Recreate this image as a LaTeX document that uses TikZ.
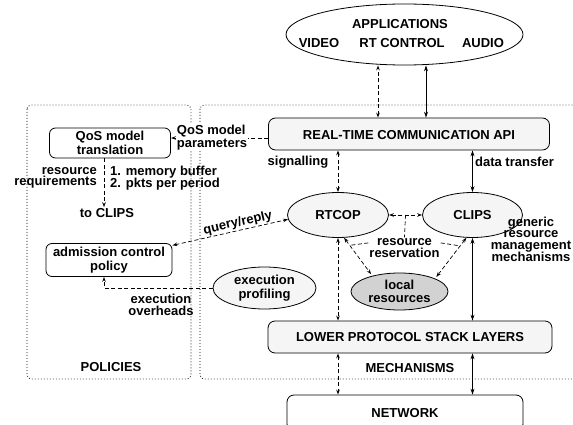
\documentclass[tikz,border=0pt]{standalone}
\usepackage{fontspec}
\setmainfont{Liberation Sans}
\usepackage{tikz}
\usetikzlibrary{shapes.geometric, arrows.meta, calc}
\newcommand{\testo}{\fontsize{13}{13.5}\selectfont\bfseries}
\newcommand{\fitto}{\fontsize{13}{11.6}\selectfont\bfseries\lineskiplimit=-6pt}

\begin{document}
\begin{tikzpicture}[x = 1pt, y = -1pt,
    >={Stealth[length=6pt, width=4pt]},
    freccia/.tip={Stealth[open, length=5pt, width=3.6pt]},
    tratt/.style={line width=0.7pt, dash pattern=on 4pt off 2.5pt},
    solida/.style={line width=0.8pt, <->},
    punt/.style={line width=0.8pt, dash pattern=on 0.8pt off 2.2pt, rounded corners=4pt},
    strato/.style={draw, line width=0.8pt, rounded corners=7pt, fill=gray!8, font=\testo},
    riquadro/.style={draw, line width=0.8pt, rounded corners=6pt, fill=white, font=\testo, align=center, inner sep=2pt},
    bolla/.style={draw, ellipse, line width=0.8pt, fill=gray!8, font=\testo, align=center, inner sep=0pt},
    etich/.style={font=\fitto, align=center, inner sep=1pt}]
    % parametri
    \pgfmathsetmacro{\xsig}{378}
    \pgfmathsetmacro{\xdat}{426}
    \pgfmathsetmacro{\xreq}{104}
    \pgfmathsetmacro{\yqos}{138}
    \useasboundingbox (0,0) rectangle (573,425);
    \clip (0,0) rectangle (573,425);
    % riquadri punteggiati
    \draw[punt] (27,105) rectangle (191,379);
    \draw[punt] (200,105) rectangle (600,379);
    \node[font=\testo] (pol) at (111,367) {POLICIES};
    \node[font=\testo] (mech) at (410,368) {MECHANISMS};
    % applicazioni
    \node[bolla, fill=white, minimum width=237pt, minimum height=61pt] (app) at (404.5,34.5) {};
    \node[font=\testo] (apptit) at (400,24) {APPLICATIONS};
    \node[font=\testo] (video) at (319,43) {VIDEO};
    \node[font=\testo] (rtc) at (402,43) {RT CONTROL};
    \node[font=\testo] (audio) at (483,43) {AUDIO};
    % strati
    \node[strato, minimum width=281pt, minimum height=32pt, text height=12pt] (api) at (409,134) {REAL-TIME COMMUNICATION API};
    \node[strato, minimum width=284pt, minimum height=32pt] (lower) at (410,337) {LOWER PROTOCOL STACK LAYERS};
    \node[strato, fill=white, minimum width=236pt, minimum height=36pt] (net) at (405,413) {NETWORK};
    % meccanismi
    \node[bolla, minimum width=101pt, minimum height=45pt] (rtcop) at (338,215) {RTCOP};
    \node[bolla, minimum width=100pt, minimum height=45pt] (clips) at (472.5,215) {CLIPS};
    \node[bolla, fill=gray!35, minimum width=97pt, minimum height=37pt] (local) at (399.5,291.5) {local\\resources};
    \node[bolla, minimum width=103pt, minimum height=42pt] (prof) at (264.5,288) {execution\\profiling};
    % politiche
    \node[riquadro, minimum width=121pt, minimum height=30pt] (qos) at (110,143) {QoS model\\translation};
    \node[riquadro, minimum width=126pt, minimum height=33pt] (adm) at (109,260) {admission control\\policy};
    % colonne
    \coordinate (csig) at (\xsig,0);
    \coordinate (cdat) at (\xdat,0);
    \coordinate (creq) at (\xreq,0);
    \coordinate (cqos) at (0,\yqos);
    % frecce verticali
    \draw[tratt, freccia-freccia] (api.north -| csig) -- (app.south -| csig);
    \draw[solida] (api.north -| cdat) -- (app.south -| cdat);
    \draw[tratt, freccia-freccia] (api.south -| rtcop) -- (rtcop.north);
    \draw[solida] (api.south -| clips) -- (clips.north);
    \draw[tratt, freccia-freccia] (rtcop.south) -- (lower.north -| rtcop);
    \draw[solida] (clips.south) -- (lower.north -| clips);
    \draw[tratt, freccia-freccia] (lower.south -| rtcop) -- (net.north -| rtcop);
    \draw[solida] (lower.south -| clips) -- (net.north -| clips);
    \node[etich] (sig) at (298,162) {signalling};
    \node[etich] (dtx) at (514.5,162) {data transfer};
    % parametri QoS
    \draw[tratt, -freccia] (api.west |- cqos) -- (qos.east |- cqos);
    \node[etich, fill=white, align=left, font=\fontsize{13}{13}\selectfont\bfseries] (qospar) at (212,137.5) {QoS model\\parameters};
    % requisiti
    \node[etich] (toclips) at (107,213) {to CLIPS};
    \draw[tratt, -freccia] (qos.south -| creq) -- (toclips.north -| creq);
    \node[etich, anchor=east, align=right] (rreq) at (98,178) {resource\\requirements};
    \node[etich, anchor=west, align=left] (mem) at (109,178) {1. memory buffer\\2. pkts per period};
    % query/reply
    \draw[tratt, freccia-freccia] (adm.13) -- (rtcop.185) node[pos=0.58, sloped, above, etich] (qr) {query/reply};
    % overheads
    \draw[tratt, -freccia] (prof.west) -| (adm.south -| creq);
    \node[etich] (ovh) at (161,305) {execution\\overheads};
    % prenotazione risorse
    \draw[tratt, freccia-freccia] (rtcop) -- coordinate[midway] (mezzo) (clips);
    \node[etich] (resv) at (404.5,248) {resource\\reservation};
    \draw[tratt] (mezzo) -- (resv.north);
    \draw[tratt, freccia-freccia, shorten >=2pt] (rtcop.-75) -- (local.150);
    \draw[tratt, freccia-freccia, shorten >=2pt] (clips.-105) -- (local.20);
    \draw[tratt] (resv.172) -- ($(rtcop.-75)!0.2!(local.150)$);
    \draw[tratt] (resv.8) -- ($(clips.-105)!0.2!(local.20)$);
    \node[etich] (gen) at (531,239) {generic\\resource\\management\\mechanisms};
\end{tikzpicture}
\end{document}
